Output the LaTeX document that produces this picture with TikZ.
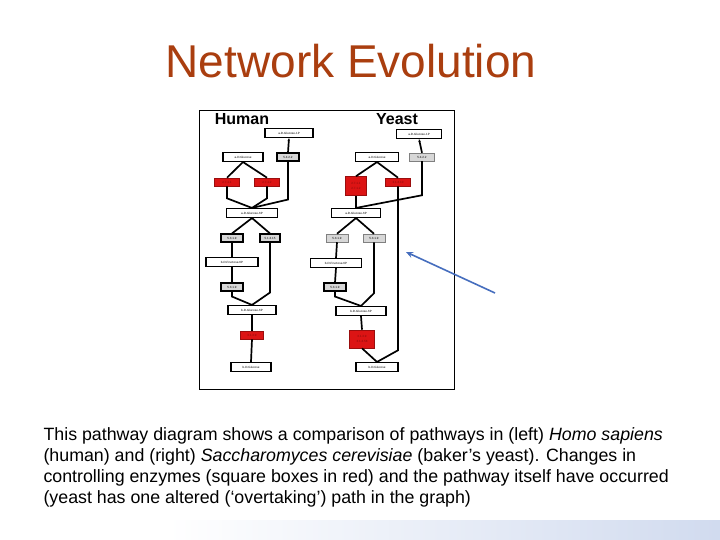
\documentclass[tikz,border=0pt]{standalone}
\usepackage{fontspec}
\setmainfont{Liberation Sans}
\usetikzlibrary{arrows.meta}
\definecolor{ttl}{RGB}{170,62,15}
\definecolor{ered}{RGB}{220,20,20}
\definecolor{egray}{RGB}{215,215,215}
\definecolor{arr}{RGB}{70,110,190}
\begin{document}
\begin{tikzpicture}[x=1pt,y=-1pt,
  comp/.style={draw,line width=1.1pt,fill=white,inner sep=0pt,minimum height=9pt,font=\fontsize{3}{3}\selectfont},
  enz/.style={draw,line width=1.1pt,fill=egray,inner sep=0pt,minimum height=8pt,minimum width=22pt,font=\fontsize{3}{3}\selectfont},
  thinenz/.style={enz,line width=0.5pt,draw=gray},
  renz/.style={draw=ered!70!black,line width=0.6pt,fill=ered,inner sep=0pt,minimum height=8pt,minimum width=25pt,font=\fontsize{3}{3}\selectfont,text=ered!60!black},
  con/.style={line width=1.7pt},
  captext/.style={anchor=west,font=\fontsize{17.8}{17.8}\selectfont}]
\useasboundingbox (0,0) rectangle (720,540);
\fill[white] (0,0) rectangle (720,540);
\shade[left color=white,right color=arr!25] (168,520) rectangle (720,540);
\node[text=ttl,font=\fontsize{46}{46}\selectfont] (title) at (351,61) {Network Evolution};
\node[draw,line width=1pt,minimum width=255pt,minimum height=278pt,inner sep=0pt] (frame) at (326.5,250) {};
\node[font=\bfseries\fontsize{16}{16}\selectfont] (hum) at (242,119) {Human};
\node[font=\bfseries\fontsize{16}{16}\selectfont] (yea) at (397,119) {Yeast};
% Human
\node[comp,minimum width=48pt] (hg1) at (289,133) {a-D-Glucose-1P};
\node[comp,minimum width=40pt] (hg) at (243,157) {a-D-Glucose};
\node[enz] (hm) at (288,157) {5.4.2.2};
\node[renz] (hr1) at (227,182) {2.7.1.1};
\node[renz] (hr2) at (267,182) {2.7.1.2};
\node[comp,minimum width=51pt] (hg6) at (252,213) {a-D-Glucose-6P};
\node[enz] (he1) at (232,238) {5.3.1.9};
\node[enz,minimum width=20pt] (he2) at (270,238) {5.1.3.15};
\node[comp,minimum width=52pt] (hf6) at (232,262) {b-D-Fructose-6P};
\node[enz] (he3) at (232,287) {5.3.1.9};
\node[comp,minimum width=48pt] (hb6) at (252,310) {b-D-Glucose-6P};
\node[renz,minimum width=23pt] (hr3) at (252,335) {3.1.3.9};
\node[comp,minimum width=40pt] (hb) at (251,367) {b-D-Glucose};
\draw[con] (hg.south) -- (hr1.north);
\draw[con] (hg.south) -- (hr2.north);
\draw[con] (hr1.south) -- ++(0,12) -- (hg6.north);
\draw[con] (hr2.south) -- ++(0,12) -- (hg6.north);
\draw[con] (hm.south) -- ++(0,38) -- (hg6.north);
\draw[con,-{Stealth[length=3pt]}] (hm.north) -- (hg1.south);
\draw[con] (hg6.south) -- (he1.north);
\draw[con] (hg6.south) -- (he2.north);
\draw[con] (he1.south) -- (hf6.north);
\draw[con] (hf6.south) -- (he3.north);
\draw[con] (he3.south) -- ++(0,5) -- (hb6.north);
\draw[con] (he2.south) -- ++(0,50) -- (hb6.north);
\draw[con] (hb6.south) -- (hr3.north);
\draw[con] (hr3.south) -- (hb.north);
% Yeast
\node[comp,minimum width=45pt] (yg1) at (419,134) {a-D-Glucose-1P};
\node[comp,minimum width=43pt] (yg) at (377,157) {a-D-Glucose};
\node[thinenz,minimum width=25pt] (ym) at (422,157) {5.4.2.2};
\node[renz,minimum width=21pt,minimum height=19pt,align=center] (yr1) at (356,186) {2.7.1.1\\[2pt]2.7.1.2};
\node[renz] (yr2) at (398,182) {3.1.3.10};
\node[comp,minimum width=49pt] (yg6) at (356,213) {a-D-Glucose-6P};
\node[thinenz] (ye1) at (337,238) {5.3.1.9};
\node[thinenz] (ye2) at (374,238) {5.3.1.9};
\node[comp,minimum width=51pt,line width=0.6pt] (yf6) at (336,263) {b-D-Fructose-6P};
\node[enz] (ye3) at (335,287) {5.3.1.9};
\node[comp,minimum width=50pt] (yb6) at (361,311) {b-D-Glucose-6P};
\node[renz,minimum width=25pt,minimum height=18pt,align=center] (yr3) at (362,339) {3.1.3.9\\[2pt]3.1.3.58};
\node[comp,minimum width=42pt] (yb) at (377,367) {b-D-Glucose};
\draw[con] (yg.south) -- (yr1.north);
\draw[con] (yg.south) -- (yr2.north);
\draw[con] (yr1.south) -- (yg6.north);
\draw[con] (ym.south) -- ++(0,34) -- (yg6.north);
\draw[con,-{Stealth[length=3pt]}] (ym.north) -- (yg1.south);
\draw[con] (yg6.south) -- (ye1.north);
\draw[con] (yg6.south) -- (ye2.north);
\draw[con] (ye1.south) -- (yf6.north);
\draw[con] (yf6.south) -- (ye3.north);
\draw[con] (ye3.south) -- ++(0,5) -- (yb6.north);
\draw[con] (ye2.south) -- ++(0,51) -- (yb6.north);
\draw[con] (yb6.south) -- (yr3.north);
\draw[con] (yr3.south) -- (yb.north);
\draw[con] (yr2.south) -- ++(0,164) -- (yb.north);
% arrow
\coordinate (as) at (495,293);
\coordinate (ae) at (406,252);
\draw[arr,line width=1.6pt,-{Stealth[length=7pt,width=6pt]}] (as) -- (ae);
% caption
\node[captext] (c1) at (40,436) {This pathway diagram shows a comparison of pathways in (left) \textit{Homo sapiens}};
\node[captext] (c2) at (40,457) {(human) and (right) \textit{Saccharomyces cerevisiae} (baker’s yeast). Changes in};
\node[captext] (c3) at (40,478) {controlling enzymes (square boxes in red) and the pathway itself have occurred};
\node[captext] (c4) at (40,499) {(yeast has one altered (‘overtaking’) path in the graph)};
\end{tikzpicture}
\end{document}
